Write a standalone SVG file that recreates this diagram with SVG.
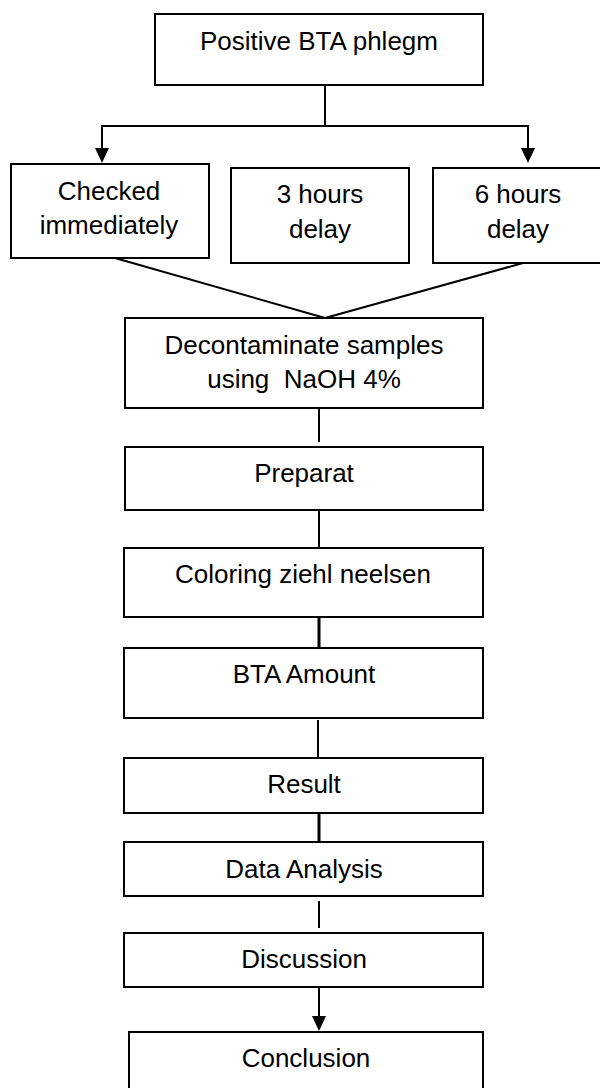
<svg xmlns="http://www.w3.org/2000/svg" width="600" height="1088" viewBox="0 0 600 1088">
<style>
.box{fill:#fff;stroke:#000;stroke-width:2}
.t{font-family:"Liberation Sans",Arial,sans-serif;font-size:26px;fill:#000;text-anchor:middle}
.c{stroke:#000;stroke-width:2;fill:none}
.ck{stroke:#000;stroke-width:3;fill:none}
</style>
<defs>
<marker id="ah" markerUnits="userSpaceOnUse" markerWidth="16" markerHeight="16" viewBox="0 -8 16 16" refX="0" refY="0" orient="auto">
<path d="M0,-7 L15,0 L0,7 z" fill="#000"/>
</marker>
</defs>
<rect width="600" height="1088" fill="#fff"/>
<g id="connectors">
<line class="c" x1="325" y1="85" x2="325" y2="126"/>
<line class="c" x1="101" y1="126" x2="529" y2="126"/>
<line class="c" x1="102" y1="126" x2="102" y2="148" marker-end="url(#ah)"/>
<line class="c" x1="528" y1="126" x2="528" y2="148" marker-end="url(#ah)"/>
<line class="c" x1="115" y1="258" x2="325" y2="318"/>
<line class="c" x1="523" y1="263" x2="325" y2="318"/>
<line class="c" x1="319" y1="408" x2="319" y2="442"/>
<line class="c" x1="319" y1="510" x2="319" y2="548"/>
<line class="ck" x1="319" y1="617" x2="319" y2="648"/>
<line class="c" x1="318" y1="720" x2="318" y2="758"/>
<line class="ck" x1="319" y1="813" x2="319" y2="842"/>
<line class="c" x1="319" y1="901" x2="319" y2="928"/>
<line class="c" x1="319" y1="987" x2="319" y2="1016" marker-end="url(#ah)"/>
</g>
<g id="n1"><rect class="box" x="155" y="14" width="328" height="71"/><text class="t" x="319" y="50">Positive BTA phlegm</text></g>
<g id="n2"><rect class="box" x="11" y="164" width="198" height="94"/><text class="t" x="109" y="200">Checked</text><text class="t" x="109" y="234">immediately</text></g>
<g id="n3"><rect class="box" x="231" y="168" width="178" height="95"/><text class="t" x="320" y="203">3 hours</text><text class="t" x="320" y="238">delay</text></g>
<g id="n4"><rect class="box" x="433" y="168" width="180" height="95"/><text class="t" x="518" y="203">6 hours</text><text class="t" x="518" y="238">delay</text></g>
<g id="n5"><rect class="box" x="125" y="318" width="358" height="90"/><text class="t" x="304" y="354">Decontaminate samples</text><text class="t" x="304" y="388" xml:space="preserve">using  NaOH 4%</text></g>
<g id="n6"><rect class="box" x="125" y="447" width="358" height="63"/><text class="t" x="304" y="482">Preparat</text></g>
<g id="n7"><rect class="box" x="124" y="548" width="359" height="69"/><text class="t" x="303" y="583">Coloring ziehl neelsen</text></g>
<g id="n8"><rect class="box" x="124" y="648" width="359" height="70"/><text class="t" x="304" y="683">BTA Amount</text></g>
<g id="n9"><rect class="box" x="124" y="758" width="359" height="55"/><text class="t" x="304" y="793">Result</text></g>
<g id="n10"><rect class="box" x="124" y="842" width="359" height="54"/><text class="t" x="304" y="878">Data Analysis</text></g>
<g id="n11"><rect class="box" x="124" y="933" width="359" height="54"/><text class="t" x="304" y="968">Discussion</text></g>
<g id="n12"><rect class="box" x="129" y="1032" width="354" height="70"/><text class="t" x="306" y="1067">Conclusion</text></g>
</svg>
